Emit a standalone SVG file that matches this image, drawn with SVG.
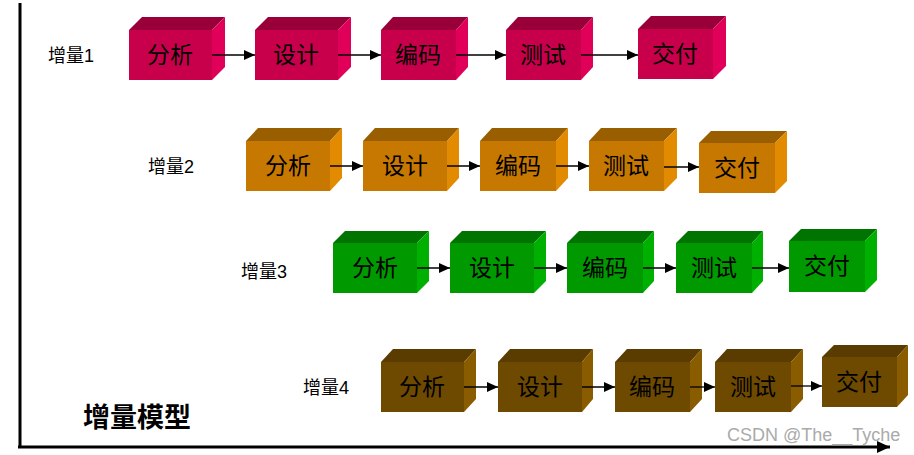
<svg xmlns="http://www.w3.org/2000/svg" width="914" height="455" viewBox="0 0 914 455">
<defs>
<style>
.r1 .f{fill:#C8004B}.r1 .t{fill:#99003A}.r1 .s{fill:#E0005A}
.r2 .f{fill:#C67800}.r2 .t{fill:#995E00}.r2 .s{fill:#E28A00}
.r3 .f{fill:#009900}.r3 .t{fill:#007400}.r3 .s{fill:#00B000}
.r4 .f{fill:#6E4A00}.r4 .t{fill:#5A3C00}.r4 .s{fill:#8A5C00}
.bt{font-family:"Liberation Serif","Noto Sans CJK SC",serif;font-size:23px;fill:#000;text-anchor:middle}
.lb{font-family:"Liberation Sans","Noto Sans CJK SC",sans-serif;font-size:18px;fill:#000}
.ar{stroke:#000;stroke-width:1.3;fill:none;marker-end:url(#ah)}
</style>
<marker id="ah" markerUnits="userSpaceOnUse" markerWidth="12" markerHeight="10" refX="11" refY="5" orient="auto"><path d="M0,0 L11,5 L0,10 Z" fill="#000"/></marker>
<marker id="ah2" markerUnits="userSpaceOnUse" markerWidth="14" markerHeight="12" refX="13" refY="6" orient="auto"><path d="M0,0 L13,6 L0,12 Z" fill="#000"/></marker>
</defs>
<rect width="914" height="455" fill="#fff"/>
<g id="axes">
<line x1="20" y1="3" x2="20" y2="447" stroke="#000" stroke-width="3"/>
<line x1="18" y1="447" x2="890" y2="447" stroke="#000" stroke-width="3" marker-end="url(#ah2)"/>
</g>
<g id="labels">
<text class="lb" x="48" y="62">增量1</text>
<text class="lb" x="148" y="173">增量2</text>
<text class="lb" x="241" y="278">增量3</text>
<text class="lb" x="303" y="394">增量4</text>
<text x="83" y="427" font-family="Liberation Serif,'Noto Sans CJK SC',serif" font-size="27" font-weight="bold">增量模型</text>
<text x="727" y="441" font-family="Liberation Sans,sans-serif" font-size="18" fill="#aaaaaa">CSDN @The__Tyche</text>
</g>
<g id="row1" class="r1">
<g id="r1b1"><polygon class="t" points="129,30 142,17 225,17 212,30"/><polygon class="s" points="212,30 225,17 225,67 212,80"/><rect class="f" x="129" y="30" width="83" height="50"/><text class="bt" x="170" y="63">分析</text></g>
<g id="r1b2"><polygon class="t" points="255,30 268,17 351,17 338,30"/><polygon class="s" points="338,30 351,17 351,67 338,80"/><rect class="f" x="255" y="30" width="83" height="50"/><text class="bt" x="296" y="63">设计</text></g>
<g id="r1b3"><polygon class="t" points="381,30 393,17 468,17 456,30"/><polygon class="s" points="456,30 468,17 468,67 456,80"/><rect class="f" x="381" y="30" width="75" height="50"/><text class="bt" x="418" y="63">编码</text></g>
<g id="r1b4"><polygon class="t" points="506,30 518,17 593,17 581,30"/><polygon class="s" points="581,30 593,17 593,67 581,80"/><rect class="f" x="506" y="30" width="75" height="50"/><text class="bt" x="543" y="63">测试</text></g>
<g id="r1b5"><polygon class="t" points="638,29 651,16 726,16 713,29"/><polygon class="s" points="713,29 726,16 726,66 713,79"/><rect class="f" x="638" y="29" width="75" height="50"/><text class="bt" x="675" y="62">交付</text></g>
</g>
<g id="row2" class="r2">
<g id="r2b1"><polygon class="t" points="246,141 258,128 342,128 330,141"/><polygon class="s" points="330,141 342,128 342,178 330,191"/><rect class="f" x="246" y="141" width="84" height="50"/><text class="bt" x="288" y="174">分析</text></g>
<g id="r2b2"><polygon class="t" points="363,141 375,128 459,128 447,141"/><polygon class="s" points="447,141 459,128 459,178 447,191"/><rect class="f" x="363" y="141" width="84" height="50"/><text class="bt" x="405" y="174">设计</text></g>
<g id="r2b3"><polygon class="t" points="480,141 492,128 568,128 556,141"/><polygon class="s" points="556,141 568,128 568,178 556,191"/><rect class="f" x="480" y="141" width="76" height="50"/><text class="bt" x="518" y="174">编码</text></g>
<g id="r2b4"><polygon class="t" points="589,141 601,128 677,128 664,141"/><polygon class="s" points="664,141 677,128 677,178 664,191"/><rect class="f" x="589" y="141" width="75" height="50"/><text class="bt" x="626" y="174">测试</text></g>
<g id="r2b5"><polygon class="t" points="699,143 711,131 787,131 775,143"/><polygon class="s" points="775,143 787,131 787,181 775,193"/><rect class="f" x="699" y="143" width="76" height="50"/><text class="bt" x="737" y="176">交付</text></g>
</g>
<g id="row3" class="r3">
<g id="r3b1"><polygon class="t" points="333,243 345,231 429,231 417,243"/><polygon class="s" points="417,243 429,231 429,281 417,293"/><rect class="f" x="333" y="243" width="84" height="50"/><text class="bt" x="375" y="276">分析</text></g>
<g id="r3b2"><polygon class="t" points="450,243 462,231 546,231 534,243"/><polygon class="s" points="534,243 546,231 546,281 534,293"/><rect class="f" x="450" y="243" width="84" height="50"/><text class="bt" x="492" y="276">设计</text></g>
<g id="r3b3"><polygon class="t" points="567,243 579,231 654,231 643,243"/><polygon class="s" points="643,243 654,231 654,281 643,293"/><rect class="f" x="567" y="243" width="76" height="50"/><text class="bt" x="605" y="276">编码</text></g>
<g id="r3b4"><polygon class="t" points="676,243 688,231 763,231 752,243"/><polygon class="s" points="752,243 763,231 763,281 752,293"/><rect class="f" x="676" y="243" width="76" height="50"/><text class="bt" x="714" y="276">测试</text></g>
<g id="r3b5"><polygon class="t" points="789,241 801,229 877,229 865,241"/><polygon class="s" points="865,241 877,229 877,280 865,292"/><rect class="f" x="789" y="241" width="76" height="51"/><text class="bt" x="827" y="274">交付</text></g>
</g>
<g id="row4" class="r4">
<g id="r4b1"><polygon class="t" points="381,362 393,349 476,349 464,362"/><polygon class="s" points="464,362 476,349 476,399 464,412"/><rect class="f" x="381" y="362" width="83" height="50"/><text class="bt" x="422" y="395">分析</text></g>
<g id="r4b2"><polygon class="t" points="498,362 510,349 593,349 582,362"/><polygon class="s" points="582,362 593,349 593,399 582,412"/><rect class="f" x="498" y="362" width="84" height="50"/><text class="bt" x="540" y="395">设计</text></g>
<g id="r4b3"><polygon class="t" points="615,362 627,349 702,349 690,362"/><polygon class="s" points="690,362 702,349 702,399 690,412"/><rect class="f" x="615" y="362" width="75" height="50"/><text class="bt" x="652" y="395">编码</text></g>
<g id="r4b4"><polygon class="t" points="715,362 727,349 803,349 791,362"/><polygon class="s" points="791,362 803,349 803,399 791,412"/><rect class="f" x="715" y="362" width="76" height="50"/><text class="bt" x="753" y="395">测试</text></g>
<g id="r4b5"><polygon class="t" points="822,357 834,345 908,345 897,357"/><polygon class="s" points="897,357 908,345 908,395 897,407"/><rect class="f" x="822" y="357" width="75" height="50"/><text class="bt" x="859" y="390">交付</text></g>
</g>
<g id="connectors">
<line class="ar" x1="212" y1="55" x2="255" y2="55"/>
<line class="ar" x1="338" y1="55" x2="381" y2="55"/>
<line class="ar" x1="456" y1="55" x2="506" y2="55"/>
<line class="ar" x1="581" y1="55" x2="638" y2="55"/>
<line class="ar" x1="330" y1="166" x2="363" y2="166"/>
<line class="ar" x1="447" y1="166" x2="480" y2="166"/>
<line class="ar" x1="556" y1="166" x2="589" y2="166"/>
<line class="ar" x1="664" y1="167" x2="699" y2="167"/>
<line class="ar" x1="417" y1="268" x2="450" y2="268"/>
<line class="ar" x1="534" y1="268" x2="567" y2="268"/>
<line class="ar" x1="643" y1="268" x2="676" y2="268"/>
<line class="ar" x1="752" y1="268" x2="789" y2="268"/>
<line class="ar" x1="464" y1="387" x2="498" y2="387"/>
<line class="ar" x1="582" y1="387" x2="615" y2="387"/>
<line class="ar" x1="690" y1="387" x2="715" y2="387"/>
<line class="ar" x1="791" y1="386" x2="822" y2="386"/>
</g>
</svg>
